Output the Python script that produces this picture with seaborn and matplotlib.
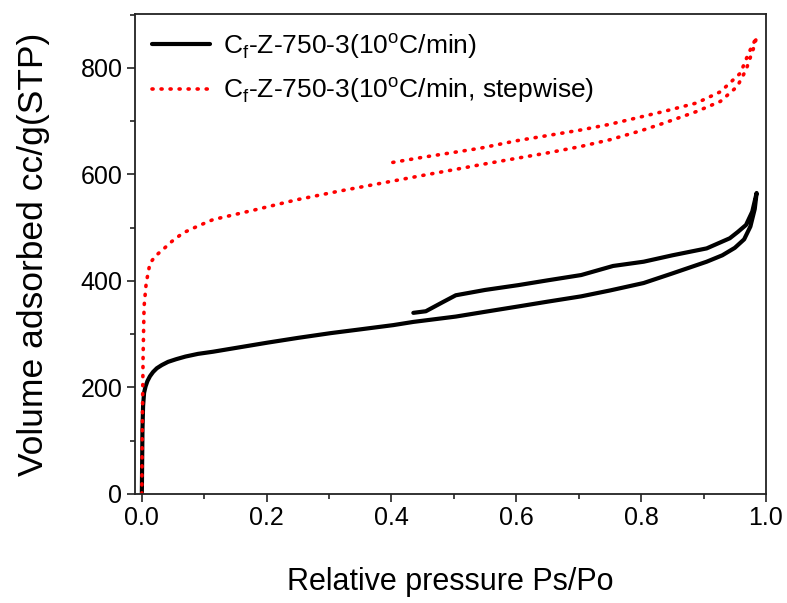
import matplotlib
matplotlib.use("Agg")
import matplotlib.pyplot as plt
import seaborn as sns
import pandas as pd
from matplotlib.ticker import MultipleLocator

sns.set_theme(style="white")
plt.rcParams['font.family'] = ['Liberation Sans', 'DejaVu Sans']
plt.rcParams['mathtext.fontset'] = 'custom'
plt.rcParams['mathtext.rm'] = 'Liberation Sans'
plt.rcParams['text.color'] = 'black'
plt.rcParams['axes.labelcolor'] = 'black'
plt.rcParams['xtick.color'] = 'black'
plt.rcParams['ytick.color'] = 'black'

# Black sample: adsorption branch then desorption branch
black_ads_x = [0.0, 0.0005, 0.001, 0.002, 0.0036, 0.006, 0.009, 0.013, 0.018, 0.024, 0.032,
               0.042, 0.055, 0.07, 0.09, 0.114, 0.16, 0.201, 0.25, 0.303, 0.35, 0.403,
               0.435, 0.503, 0.55, 0.603, 0.65, 0.704, 0.75, 0.804, 0.85, 0.905, 0.93,
               0.95, 0.965, 0.975, 0.982, 0.985]
black_ads_y = [0, 60, 120, 165, 190, 202, 212, 221, 229, 236, 242,
               248, 253, 258, 263, 267, 276, 284, 293, 302, 309, 317,
               323, 333, 342, 352, 361, 371, 382, 396, 414, 436, 448,
               462, 478, 502, 535, 565]
black_des_x = [0.985, 0.978, 0.968, 0.955, 0.942, 0.905, 0.85, 0.804, 0.755, 0.704,
               0.65, 0.603, 0.55, 0.503, 0.482, 0.455, 0.435]
black_des_y = [565, 530, 505, 492, 480, 461, 448, 436, 428, 411,
               401, 392, 383, 373, 360, 343, 340]

# Red sample (stepwise)
red_ads_x = [0.0, 0.0005, 0.001, 0.002, 0.0036, 0.007, 0.013, 0.022, 0.033, 0.048, 0.066,
             0.09, 0.114, 0.18, 0.247, 0.314, 0.382, 0.45, 0.515, 0.542, 0.6, 0.649,
             0.702, 0.75, 0.8, 0.836, 0.889, 0.927, 0.954, 0.968, 0.981, 0.985]
red_ads_y = [0, 100, 146, 258, 352, 396, 433, 447, 458, 474, 490,
             503, 515, 533, 552, 568, 583, 598, 612, 618, 630, 640,
             652, 665, 682, 696, 718, 737, 765, 796, 840, 858]
red_des_x = [0.985, 0.972, 0.959, 0.927, 0.889, 0.836, 0.75, 0.702, 0.6, 0.542, 0.45, 0.39]
red_des_y = [858, 827, 790, 755, 734, 718, 694, 683, 663, 649, 632, 620]

label_black = r"C$_\mathregular{f}$-Z-750-3(10$^\mathregular{o}$C/min)"
label_red = r"C$_\mathregular{f}$-Z-750-3(10$^\mathregular{o}$C/min, stepwise)"

df_black = pd.DataFrame({"x": black_ads_x + black_des_x, "y": black_ads_y + black_des_y})
df_red = pd.DataFrame({"x": red_ads_x + red_des_x, "y": red_ads_y + red_des_y})

fig = plt.figure(figsize=(7.87, 6.03), dpi=100)
ax = fig.add_axes([0.1715, 0.1808, 0.8018, 0.796])

sns.lineplot(data=df_black, x="x", y="y", sort=False, estimator=None, ax=ax,
             color="black", linewidth=3.0, label=label_black)
sns.lineplot(data=df_red, x="x", y="y", sort=False, estimator=None, ax=ax,
             color="#ff0000", linewidth=2.6, label=label_red,
             linestyle=(0, (0.3, 2.2)), dash_capstyle="round")

ax.set_xlim(-0.011, 1.0)
ax.set_ylim(0, 901)
ax.xaxis.set_major_locator(MultipleLocator(0.2))
ax.xaxis.set_minor_locator(MultipleLocator(0.1))
ax.yaxis.set_major_locator(MultipleLocator(200))
ax.yaxis.set_minor_locator(MultipleLocator(100))
ax.set_xticks([0.0, 0.2, 0.4, 0.6, 0.8, 1.0])
ax.set_xticklabels(["0.0", "0.2", "0.4", "0.6", "0.8", "1.0"])
ax.tick_params(axis="both", which="major", direction="out", length=6, width=1.2,
               labelsize=18, color="#222222", labelcolor="black",
               bottom=True, left=True, top=False, right=False, pad=3)
ax.tick_params(axis="both", which="minor", direction="out", length=3.5, width=1.2,
               color="#222222", bottom=True, left=True, top=False, right=False)
for s in ax.spines.values():
    s.set_color("#222222")
    s.set_linewidth(1.3)

ax.set_xlabel("Relative pressure Ps/Po", fontsize=22, labelpad=26, color="black")
ax.set_ylabel("Volume adsorbed cc/g(STP)", fontsize=25.5, labelpad=22, color="black")

leg = ax.legend(loc="upper left", frameon=False, fontsize=19, handlelength=2.2,
                handletextpad=0.5, labelspacing=0.55, borderaxespad=0.25,
                bbox_to_anchor=(0.0, 1.0))
for t in leg.get_texts():
    t.set_color("black")

fig.savefig("out.png", dpi=100, facecolor="white")
